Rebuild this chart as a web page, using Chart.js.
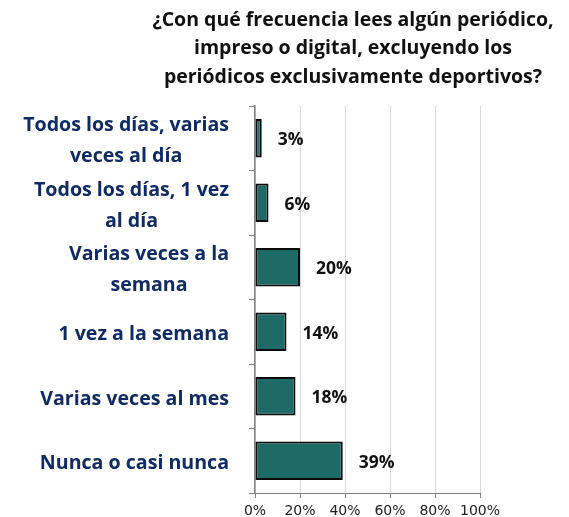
<!DOCTYPE html>
<html>
<head>
<meta charset="utf-8">
<script src="https://cdn.jsdelivr.net/npm/chart.js@4"></script>
<style>
  html, body { margin: 0; padding: 0; background: #fff; }
  #wrap { width: 569px; height: 517px; }
</style>
</head>
<body>
<div id="wrap"><canvas id="c" width="569" height="517"></canvas></div>
<script>
const titleLines = [
  '¿Con qué frecuencia lees algún periódico,',
  'impreso o digital, excluyendo los',
  'periódicos exclusivamente deportivos?'
];
const categories = [
  ['Todos los días, varias', 'veces al día'],
  ['Todos los días, 1 vez', 'al día'],
  ['Varias veces a la', 'semana'],
  ['1 vez a la semana'],
  ['Varias veces al mes'],
  ['Nunca o casi nunca']
];
const percentages = [3, 6, 20, 14, 18, 39];
const xTicks = [0, 20, 40, 60, 80, 100];

const FONT = '"Open Sans", Lato, sans-serif';
const NAVY = '#102b64';

// Title block centred above the plot
const titlePlugin = {
  id: 'titleBlock',
  afterDraw(chart) {
    const ctx = chart.ctx;
    ctx.save();
    ctx.font = 'bold 19.5px ' + FONT;
    ctx.fillStyle = '#111';
    ctx.textAlign = 'center';
    ctx.textBaseline = 'middle';
    titleLines.forEach((t, i) => ctx.fillText(t, 353, 20 + i * 28.5));
    ctx.restore();
  }
};

// Category labels: each block right-aligned, its lines centred inside the block
const categoryLabels = {
  id: 'categoryLabels',
  afterDraw(chart) {
    const ctx = chart.ctx;
    const y = chart.scales.y;
    ctx.save();
    ctx.font = 'bold 19.6px ' + FONT;
    ctx.fillStyle = NAVY;
    ctx.textAlign = 'center';
    ctx.textBaseline = 'middle';
    const right = 229;
    const lh = 31;
    categories.forEach((lines, i) => {
      const cy = y.getPixelForTick(i) + 3;
      const w = Math.max(...lines.map(l => ctx.measureText(l).width));
      const cx = right - w / 2;
      const y0 = cy - (lines.length - 1) * lh / 2;
      lines.forEach((l, k) => ctx.fillText(l, cx, y0 + k * lh));
    });
    ctx.restore();
  }
};

// Value labels to the right of each bar
const valueLabels = {
  id: 'valueLabels',
  afterDatasetsDraw(chart) {
    const ctx = chart.ctx;
    const meta = chart.getDatasetMeta(0);
    ctx.save();
    ctx.font = 'bold 17.5px ' + FONT;
    ctx.fillStyle = '#111';
    ctx.textAlign = 'left';
    ctx.textBaseline = 'middle';
    meta.data.forEach((bar, i) => {
      ctx.fillText(percentages[i] + '%', bar.x + 16, bar.y + 2);
    });
    ctx.restore();
  }
};

new Chart(document.getElementById('c'), {
  type: 'bar',
  data: {
    labels: categories.map(c => c.join(' ')),
    datasets: [{
      data: percentages,
      backgroundColor: '#1e6a66',
      borderColor: '#0b0b0b',
      borderWidth: 2,
      borderSkipped: false,
      barPercentage: 0.6,
      categoryPercentage: 1
    }]
  },
  options: {
    indexAxis: 'y',
    responsive: false,
    animation: false,
    events: [],
    layout: { padding: { top: 106, right: 89, bottom: 0, left: 0 } },
    plugins: { legend: { display: false }, tooltip: { enabled: false }, title: { display: false } },
    scales: {
      x: {
        min: 0, max: 100,
        afterBuildTicks(scale) { scale.ticks = xTicks.map(v => ({ value: v })); },
        afterFit(scale) { scale.height = 24; },
        grid: { color: '#d9d9d9', lineWidth: 1, tickLength: 5, tickColor: '#808080', drawOnChartArea: true },
        border: { color: '#808080', width: 1 },
        ticks: {
          padding: 5,
          maxRotation: 0,
          color: '#222',
          font: { family: '"DejaVu Sans", Verdana, sans-serif', size: 14 },
          callback: v => v + '%'
        }
      },
      y: {
        afterFit(scale) { scale.width = 255; },
        grid: { offset: true, drawOnChartArea: false, tickLength: 6, tickColor: '#808080' },
        border: { color: '#808080', width: 1.5 },
        ticks: { display: false }
      }
    }
  },
  plugins: [titlePlugin, categoryLabels, valueLabels]
});
</script>
</body>
</html>
